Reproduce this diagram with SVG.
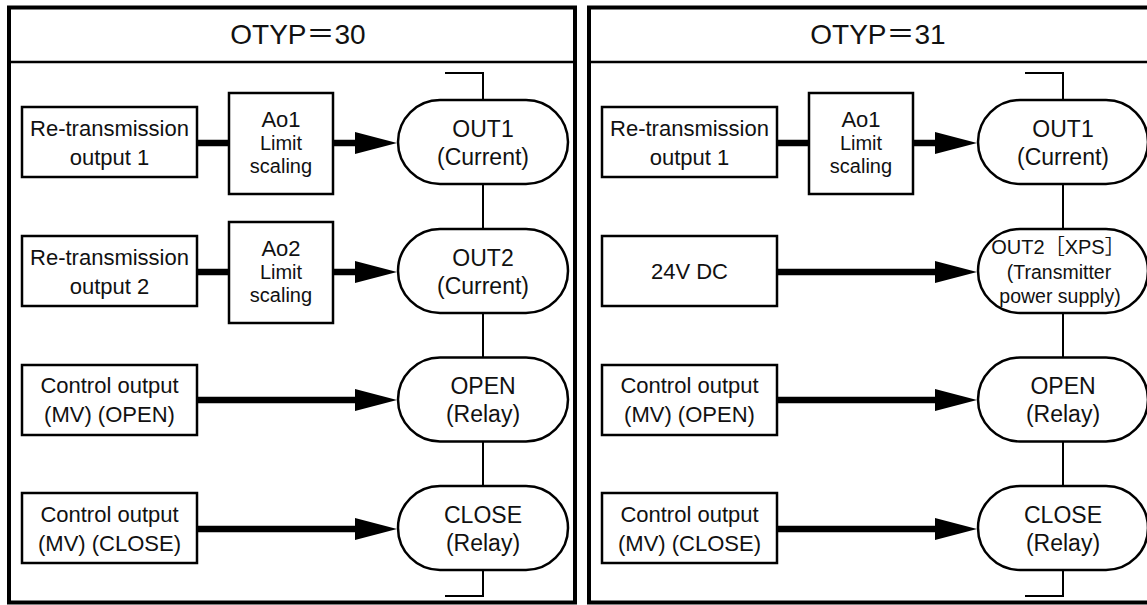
<svg xmlns="http://www.w3.org/2000/svg" width="1147" height="605" viewBox="0 0 1147 605">
<style>
  text { font-family: "Liberation Sans", "Noto Sans CJK JP", sans-serif; fill: #111; text-anchor: middle; }
  .t22 { font-size: 22px; }
  .t23 { font-size: 23px; }
  .t20 { font-size: 20px; }
  .t19 { font-size: 19.5px; }
  .title { font-size: 28px; }
  .frame { fill: none; stroke: #000; stroke-width: 4; }
  .sep { stroke: #000; stroke-width: 2.5; }
  .box { fill: #fff; stroke: #000; stroke-width: 2.5; }
  .thick { fill: none; stroke: #000; stroke-width: 6.5; }
  .thin { fill: none; stroke: #000; stroke-width: 2; }
</style>
<defs>
  <marker id="ah" markerUnits="userSpaceOnUse" markerWidth="42" markerHeight="22" refX="2" refY="11" orient="auto">
    <path d="M0,0 L42,11 L0,22 Z" fill="#000"/>
  </marker>
</defs>
<rect width="1147" height="605" fill="#fff"/>

<!-- Panel frames -->
<g id="panel-30">
  <rect class="frame" x="9" y="7.5" width="566" height="595"/>
  <line class="sep" x1="9" y1="62" x2="575" y2="62"/>
  <text class="title" x="298" y="44">OTYP＝30</text>
</g>
<g id="panel-31">
  <rect class="frame" x="589" y="7.5" width="566" height="595"/>
  <line class="sep" x1="589" y1="62" x2="1155" y2="62"/>
  <text class="title" x="878" y="44">OTYP＝31</text>
</g>

<!-- Connectors -->
<g id="connectors">
  <!-- left panel -->
  <line class="thick" x1="197" y1="143" x2="229" y2="143"/>
  <line class="thick" x1="333" y1="143" x2="357" y2="143" marker-end="url(#ah)"/>
  <line class="thick" x1="197" y1="272" x2="229" y2="272"/>
  <line class="thick" x1="333" y1="272" x2="357" y2="272" marker-end="url(#ah)"/>
  <line class="thick" x1="197" y1="400" x2="357" y2="400" marker-end="url(#ah)"/>
  <line class="thick" x1="197" y1="529" x2="357" y2="529" marker-end="url(#ah)"/>
  <polyline class="thin" points="445,73 483,73 483,100"/>
  <line class="thin" x1="483" y1="184" x2="483" y2="229"/>
  <line class="thin" x1="483" y1="313" x2="483" y2="357.5"/>
  <line class="thin" x1="483" y1="441.5" x2="483" y2="486"/>
  <polyline class="thin" points="483,570 483,596 445,596"/>
  <!-- right panel -->
  <line class="thick" x1="777" y1="143" x2="809" y2="143"/>
  <line class="thick" x1="913" y1="143" x2="937" y2="143" marker-end="url(#ah)"/>
  <line class="thick" x1="777" y1="272" x2="937" y2="272" marker-end="url(#ah)"/>
  <line class="thick" x1="777" y1="400" x2="937" y2="400" marker-end="url(#ah)"/>
  <line class="thick" x1="777" y1="529" x2="937" y2="529" marker-end="url(#ah)"/>
  <polyline class="thin" points="1025,73 1063,73 1063,100"/>
  <line class="thin" x1="1063" y1="184" x2="1063" y2="229"/>
  <line class="thin" x1="1063" y1="313" x2="1063" y2="357.5"/>
  <line class="thin" x1="1063" y1="441.5" x2="1063" y2="486"/>
  <polyline class="thin" points="1063,570 1063,596 1025,596"/>
</g>

<!-- Left panel nodes -->
<g id="l-retrans1">
  <rect class="box" x="22" y="107" width="175" height="70"/>
  <text class="t22" x="109.5" y="136">Re-transmission</text>
  <text class="t22" x="109.5" y="165">output 1</text>
</g>
<g id="l-ao1">
  <rect class="box" x="229" y="93" width="104" height="101"/>
  <text class="t22" x="281" y="127">Ao1</text>
  <text class="t20" x="281" y="150">Limit</text>
  <text class="t20" x="281" y="173">scaling</text>
</g>
<g id="l-out1">
  <rect class="box" x="398" y="100" width="170" height="84" rx="42" ry="42"/>
  <text class="t23" x="483" y="137">OUT1</text>
  <text class="t23" x="483" y="165">(Current)</text>
</g>
<g id="l-retrans2">
  <rect class="box" x="22" y="236" width="175" height="70"/>
  <text class="t22" x="109.5" y="265">Re-transmission</text>
  <text class="t22" x="109.5" y="294">output 2</text>
</g>
<g id="l-ao2">
  <rect class="box" x="229" y="222" width="104" height="101"/>
  <text class="t22" x="281" y="256">Ao2</text>
  <text class="t20" x="281" y="279">Limit</text>
  <text class="t20" x="281" y="302">scaling</text>
</g>
<g id="l-out2">
  <rect class="box" x="398" y="229" width="170" height="84" rx="42" ry="42"/>
  <text class="t23" x="483" y="266">OUT2</text>
  <text class="t23" x="483" y="294">(Current)</text>
</g>
<g id="l-ctrl-open">
  <rect class="box" x="22" y="365" width="175" height="70"/>
  <text class="t22" x="109.5" y="393">Control output</text>
  <text class="t22" x="109.5" y="422">(MV) (OPEN)</text>
</g>
<g id="l-open">
  <rect class="box" x="398" y="357.5" width="170" height="84" rx="42" ry="42"/>
  <text class="t23" x="483" y="394">OPEN</text>
  <text class="t23" x="483" y="422">(Relay)</text>
</g>
<g id="l-ctrl-close">
  <rect class="box" x="22" y="493" width="175" height="70"/>
  <text class="t22" x="109.5" y="522">Control output</text>
  <text class="t22" x="109.5" y="551">(MV) (CLOSE)</text>
</g>
<g id="l-close">
  <rect class="box" x="398" y="486" width="170" height="84" rx="42" ry="42"/>
  <text class="t23" x="483" y="523">CLOSE</text>
  <text class="t23" x="483" y="551">(Relay)</text>
</g>

<!-- Right panel nodes -->
<g id="r-retrans1">
  <rect class="box" x="602" y="107" width="175" height="70"/>
  <text class="t22" x="689.5" y="136">Re-transmission</text>
  <text class="t22" x="689.5" y="165">output 1</text>
</g>
<g id="r-ao1">
  <rect class="box" x="809" y="93" width="104" height="101"/>
  <text class="t22" x="861" y="127">Ao1</text>
  <text class="t20" x="861" y="150">Limit</text>
  <text class="t20" x="861" y="173">scaling</text>
</g>
<g id="r-out1">
  <rect class="box" x="978" y="100" width="170" height="84" rx="42" ry="42"/>
  <text class="t23" x="1063" y="137">OUT1</text>
  <text class="t23" x="1063" y="165">(Current)</text>
</g>
<g id="r-24vdc">
  <rect class="box" x="602" y="236" width="175" height="70"/>
  <text class="t22" x="689.5" y="279">24V DC</text>
</g>
<g id="r-out2-xps">
  <rect class="box" x="978" y="229" width="170" height="84" rx="42" ry="42"/>
  <text class="t20" x="1058" y="254">OUT2［XPS］</text>
  <text class="t19" x="1059" y="279">(Transmitter</text>
  <text class="t19" x="1060" y="303">power supply)</text>
</g>
<g id="r-ctrl-open">
  <rect class="box" x="602" y="365" width="175" height="70"/>
  <text class="t22" x="689.5" y="393">Control output</text>
  <text class="t22" x="689.5" y="422">(MV) (OPEN)</text>
</g>
<g id="r-open">
  <rect class="box" x="978" y="357.5" width="170" height="84" rx="42" ry="42"/>
  <text class="t23" x="1063" y="394">OPEN</text>
  <text class="t23" x="1063" y="422">(Relay)</text>
</g>
<g id="r-ctrl-close">
  <rect class="box" x="602" y="493" width="175" height="70"/>
  <text class="t22" x="689.5" y="522">Control output</text>
  <text class="t22" x="689.5" y="551">(MV) (CLOSE)</text>
</g>
<g id="r-close">
  <rect class="box" x="978" y="486" width="170" height="84" rx="42" ry="42"/>
  <text class="t23" x="1063" y="523">CLOSE</text>
  <text class="t23" x="1063" y="551">(Relay)</text>
</g>
</svg>
